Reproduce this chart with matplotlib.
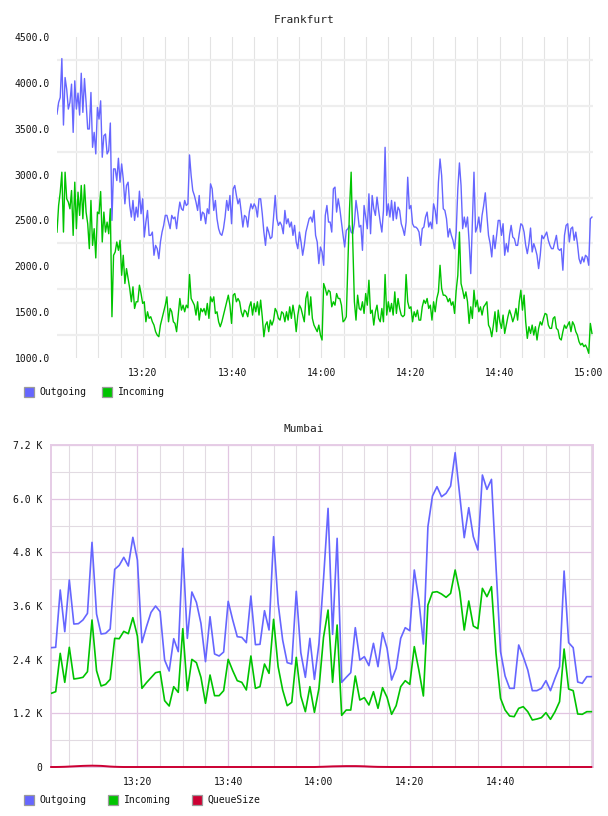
import datetime as dt
import pandas as pd
import matplotlib
matplotlib.use("Agg")
import matplotlib.pyplot as plt
import matplotlib.dates as mdates
from matplotlib.ticker import MultipleLocator, FixedLocator, FuncFormatter
from matplotlib.patches import Rectangle

plt.rcParams['font.family'] = ['DejaVu Sans Mono']

# ---------------- data ----------------
fra_title = "Frankfurt"
mum_title = "Mumbai"

fra_outgoing = [
    3660, 3786, 3841, 4265, 3540, 4058, 3931, 3714, 3786, 3986,
    3460, 4022, 3714, 3888, 3649, 4105, 3678, 4047, 3786, 3497,
    3497, 3895, 3297, 3460, 3225, 3732, 3605, 3804, 3189, 3424,
    3442, 3225, 3261, 3562, 2500, 3062, 3062, 2935, 3178, 2917,
    3116, 2953, 2681, 2881, 2917, 2663, 2537, 2718, 2500, 2645,
    2537, 2819, 2573, 2736, 2319, 2482, 2609, 2337, 2337, 2373,
    2120, 2228, 2192, 2083, 2265, 2373, 2446, 2555, 2555, 2482,
    2410, 2555, 2518, 2537, 2410, 2573, 2700, 2627, 2609, 2718,
    2663, 2681, 3214, 2989, 2826, 2772, 2700, 2609, 2772, 2500,
    2591, 2573, 2464, 2627, 2573, 2899, 2844, 2609, 2718, 2518,
    2410, 2355, 2337, 2410, 2537, 2718, 2609, 2772, 2464, 2844,
    2881, 2772, 2681, 2736, 2591, 2428, 2555, 2537, 2428, 2591,
    2681, 2627, 2681, 2645, 2537, 2736, 2736, 2573, 2373, 2228,
    2428, 2373, 2301, 2319, 2537, 2772, 2518, 2446, 2482, 2446,
    2355, 2609, 2464, 2518, 2428, 2482, 2337, 2446, 2265, 2192,
    2373, 2265, 2120, 2228, 2373, 2446, 2518, 2537, 2482, 2609,
    2337, 2265, 2029, 2210, 2156, 2011, 2555, 2663, 2482,
    2482, 2373, 2844, 2863, 2591, 2736, 2627, 2482, 2337, 2210,
    2392, 2410, 2446, 2373, 2355, 2464, 2718, 2591, 2428, 2446,
    2174, 2663, 2537, 2410, 2790, 2355, 2772, 2627, 2555, 2754,
    2609, 2482, 2373, 2609, 3297, 2555, 2681, 2537, 2718, 2500,
    2700, 2518, 2645, 2609, 2464, 2410, 2337, 2482, 2971, 2627,
    2663, 2464, 2428, 2428, 2410, 2373, 2228, 2410, 2428, 2537,
    2591, 2428, 2482, 2410, 2681, 2609, 2464, 2917, 3170, 2989,
    2627, 2609, 2518, 2319, 2410, 2337, 2283, 2192, 2373, 2844,
    3127, 2881, 2410, 2537, 2428, 2537, 2265, 1920, 2482, 3026,
    2373, 2428, 2537, 2373, 2555, 2663, 2801, 2555, 2337, 2247,
    2102, 2337, 2192, 2337, 2500, 2500, 2337, 2464, 2120, 2247,
    2156, 2337, 2446, 2319, 2301, 2228, 2228, 2355, 2464, 2446,
    2373, 2228, 2138, 2247, 2417, 2156, 2247, 2192, 2120, 1975,
    2120, 2337, 2301, 2337, 2373, 2283, 2228, 2192, 2192, 2265,
    2337, 2192, 2174, 2192, 1957, 2337, 2446, 2464, 2265, 2410,
    2428, 2283, 2373, 2247, 2083, 2029, 2102, 2047, 2120, 2102,
    2011, 2518, 2537,
]

fra_incoming = [
    2373, 2663, 2808, 3026, 2373, 3026, 2736, 2700, 2627, 2826,
    2337, 2917, 2410, 2808, 2555, 2881, 2518, 2888, 2591, 2464,
    2192, 2718, 2228, 2410, 2091, 2591, 2573, 2815, 2265, 2591,
    2373, 2482, 2355, 2627, 1450, 2120, 2156, 2265, 2174, 2283,
    1902, 2120, 1812, 1975, 1866, 1758, 1613, 1776, 1540, 1613,
    1613, 1794, 1703, 1595, 1613, 1395, 1504, 1432, 1450, 1395,
    1359, 1287, 1250, 1232, 1359, 1432, 1504, 1576, 1667, 1395,
    1540, 1504, 1395, 1377, 1287, 1468, 1649, 1522, 1576, 1504,
    1576, 1547, 1910, 1649, 1613, 1576, 1468, 1613, 1413, 1540,
    1504, 1540, 1468, 1595, 1432, 1667, 1613, 1667, 1486, 1504,
    1395, 1341, 1395, 1468, 1540, 1613, 1685, 1576, 1377, 1685,
    1703, 1613, 1649, 1613, 1504, 1450, 1522, 1504, 1450, 1558,
    1613, 1468, 1595, 1504, 1613, 1468, 1631, 1450, 1232, 1359,
    1395, 1287, 1413, 1359, 1413, 1540, 1504, 1432, 1413, 1504,
    1486, 1395, 1504, 1413, 1558, 1432, 1576, 1468, 1287, 1468,
    1576, 1540, 1468, 1395, 1649, 1721, 1468, 1667, 1432, 1359,
    1323, 1287, 1359, 1250, 1196, 1812, 1758, 1685, 1739,
    1721, 1558, 1613, 1576, 1703, 1649, 1649, 1576, 1395, 1413,
    1450, 2047, 2627, 3026, 2265, 1613, 1413, 1685, 1540, 1522,
    1613, 1486, 1703, 1576, 1848, 1486, 1522, 1359, 1504, 1576,
    1432, 1395, 1540, 1395, 1910, 1468, 1613, 1504, 1595, 1468,
    1721, 1486, 1649, 1540, 1468, 1450, 1468, 1910, 1613, 1540,
    1558, 1395, 1504, 1450, 1522, 1413, 1413, 1558, 1631, 1595,
    1649, 1540, 1576, 1413, 1613, 1504, 1649, 1721, 2011, 1758,
    1685, 1685, 1667, 1613, 1649, 1576, 1613, 1486, 1739, 1902,
    2373, 1812, 1739, 1649, 1721, 1613, 1377, 1558, 1432, 1739,
    1558, 1631, 1504, 1558, 1468, 1558, 1583, 1613, 1359, 1323,
    1232, 1359, 1504, 1287, 1522, 1395, 1323, 1468, 1268, 1359,
    1450, 1522, 1468, 1395, 1450, 1540, 1413, 1613, 1739, 1522,
    1685, 1395, 1214, 1341, 1268, 1359, 1250, 1341, 1196, 1323,
    1395, 1359, 1432, 1486, 1475, 1359, 1323, 1323, 1432, 1450,
    1323, 1305, 1214, 1196, 1287, 1359, 1323, 1359, 1395, 1287,
    1395, 1359, 1287, 1250, 1178, 1142, 1160, 1124, 1142, 1105,
    1051, 1377, 1268,
]

mum_outgoing = [
    2668, 2676, 3958, 3026, 4181, 3197, 3205, 3287, 3436, 5023,
    3421, 2974, 2989, 3085, 4420, 4509, 4688, 4494, 5135, 4628,
    2780, 3138, 3458, 3600, 3473, 2392, 2146, 2869, 2579, 4889,
    2877, 3913, 3682, 3212, 2355, 3361, 2527, 2482, 2571, 3704,
    3287, 2914, 2899, 2780, 3823, 2735, 2743, 3495, 3063, 5150,
    3659, 2840, 2333, 2303, 3928, 2556, 2005, 2877, 1960, 2765,
    4200, 5783, 2966, 5113, 1893, 2005, 2109, 3115, 2392, 2467,
    2266, 2765, 2243, 3004, 2653, 1945, 2206, 2877, 3115, 3048,
    4405, 3734, 2750, 5374, 6059, 6268, 6044, 6119, 6283, 7028,
    6082, 5128, 5798, 5150, 4852, 6529, 6208, 6432, 4479, 2579,
    2035, 1759, 1759, 2728, 2467, 2169, 1707, 1707, 1759, 1930,
    1707, 1983, 2243, 4382, 2780, 2668, 1900, 1871, 2020, 2020,
]

mum_incoming = [
    1647, 1684, 2541, 1893, 2676, 1968, 1983, 2005, 2132, 3287,
    2154, 1811, 1848, 1960, 2877, 2869, 3033, 2981, 3339, 2929,
    1759, 1886, 1997, 2109, 2132, 1483, 1364, 1796, 1669, 3093,
    1707, 2407, 2333, 2005, 1424, 2057, 1595, 1595, 1707, 2407,
    2154, 1930, 1893, 1722, 2482, 1759, 1796, 2303, 2094, 3302,
    2243, 1722, 1371, 1446, 2452, 1588, 1237, 1796, 1222, 1759,
    2900, 3510, 1893, 3175, 1155, 1274, 1274, 2035, 1498, 1550,
    1386, 1684, 1312, 1774, 1558, 1178, 1371, 1796, 1930, 1848,
    2691, 2169, 1588, 3622, 3905, 3920, 3868, 3794, 3883, 4405,
    3920, 3063, 3712, 3153, 3093, 3995, 3809, 4032, 2541, 1535,
    1274, 1140, 1125, 1312, 1349, 1237, 1051, 1073, 1103, 1215,
    1066, 1237, 1461, 2638, 1744, 1707, 1185, 1178, 1237, 1237,
]

mum_queue = [
    0, 0, 2, 5, 10, 15, 20, 25, 28, 30,
    28, 25, 18, 10, 5, 2, 0, 0, 0, 0,
    0, 0, 0, 0, 0, 0, 0, 0, 0, 0,
    0, 0, 0, 0, 0, 0, 0, 0, 0, 0,
    0, 0, 0, 0, 0, 0, 0, 0, 0, 0,
    0, 0, 0, 0, 0, 0, 0, 0, 0, 3,
    6, 10, 14, 16, 18, 20, 20, 20, 18, 15,
    10, 6, 3, 2, 1, 0, 0, 0, 0, 0,
    0, 0, 0, 0, 0, 0, 0, 0, 0, 0,
    0, 0, 0, 0, 0, 0, 0, 0, 0, 0,
    0, 0, 0, 0, 0, 0, 0, 0, 0, 0,
    0, 0, 0, 0, 0, 0, 0, 0, 0, 0,
]

series_labels_fra = ["Outgoing", "Incoming"]
series_labels_mum = ["Outgoing", "Incoming", "QueueSize"]
fra_yticks = [1000, 1500, 2000, 2500, 3000, 3500, 4000, 4500]
mum_yticks = [0, 1200, 2400, 3600, 4800, 6000, 7200]
mum_ytick_labels = ["0", "1.2 K", "2.4 K", "3.6 K", "4.8 K", "6.0 K", "7.2 K"]

# ---------------- styling ----------------
C_OUT = "#6666ff"
C_IN = "#00c400"
C_Q = "#cc0033"

base = dt.datetime(2024, 1, 1)
def T(h, m, s=0):
    return base.replace(hour=h, minute=m, second=s)

fra_t_out = pd.date_range(T(13, 0, 43), T(15, 0, 40), periods=len(fra_outgoing))
fra_t_in = pd.date_range(T(13, 0, 43), T(15, 0, 40), periods=len(fra_incoming))
mum_t = pd.date_range(T(13, 1), periods=len(mum_outgoing), freq="1min")

W, H = 608, 816
fig = plt.figure(figsize=(W / 100, H / 100), dpi=100)

def px_axes(l, t, r, b):
    return fig.add_axes([l / W, 1 - b / H, (r - l) / W, (b - t) / H])

def fx(x):
    return x / W

def fy(y):
    return 1 - y / H

# ---- Frankfurt ----
ax1 = px_axes(57, 37, 593, 358)
ax1.set_xlim(T(13, 0, 43), T(15, 0, 54))
ax1.set_ylim(1000, 4500)
for s in ax1.spines.values():
    s.set_visible(False)
ax1.yaxis.set_major_locator(FixedLocator(fra_yticks))
ax1.yaxis.set_major_formatter(FuncFormatter(lambda v, p: f"{v:.1f}"))
ax1.yaxis.set_minor_locator(FixedLocator([v + 250 for v in fra_yticks[:-1]]))
ax1.xaxis.set_major_locator(mdates.MinuteLocator(byminute=[0, 20, 40]))
ax1.xaxis.set_minor_locator(mdates.MinuteLocator(byminute=range(0, 60, 5)))
ax1.xaxis.set_major_formatter(mdates.DateFormatter("%H:%M"))
ax1.grid(False)
ax1.grid(True, axis="y", which="minor", color="#eeeeee", lw=1.6)
ax1.grid(True, axis="x", which="both", color="#e3e3e3", lw=0.8)
ax1.tick_params(axis="both", which="both", length=0, labelsize=7, colors="#111111")
ax1.tick_params(axis="y", pad=5)
ax1.tick_params(axis="x", pad=7.5)
ax1.set_axisbelow(True)
ax1.plot(fra_t_out, fra_outgoing, color=C_OUT, lw=1.0, zorder=3)
ax1.plot(fra_t_in, fra_incoming, color=C_IN, lw=1.0, zorder=3)
fig.text(fx(304), fy(20), fra_title, ha="center", va="center", fontsize=8, color="#222222")

# ---- Mumbai ----
ax2 = px_axes(51, 445, 593, 767)
ax2.set_xlim(T(13, 0, 58), T(15, 0, 22))
ax2.set_ylim(0, 7200)
for s in ax2.spines.values():
    s.set_color("#e6cce6")
    s.set_linewidth(1.4)
ax2.yaxis.set_major_locator(FixedLocator(mum_yticks))
ax2.set_yticklabels(mum_ytick_labels)
ax2.yaxis.set_minor_locator(FixedLocator([v + 600 for v in mum_yticks[:-1]]))
ax2.xaxis.set_major_locator(FixedLocator([mdates.date2num(T(13, 20)), mdates.date2num(T(13, 40)),
                                          mdates.date2num(T(14, 0)), mdates.date2num(T(14, 20)),
                                          mdates.date2num(T(14, 40))]))
ax2.xaxis.set_minor_locator(mdates.MinuteLocator(byminute=range(0, 60, 5)))
ax2.xaxis.set_major_formatter(mdates.DateFormatter("%H:%M"))
ax2.grid(True, which="minor", color="#e2dbe2", lw=0.8)
ax2.grid(True, which="major", color="#e2c6e2", lw=0.9)
ax2.tick_params(axis="both", which="both", length=0, labelsize=7, colors="#111111")
ax2.tick_params(axis="y", pad=6)
ax2.tick_params(axis="x", pad=7.5)
ax2.set_axisbelow(True)
ax2.plot(mum_t, mum_outgoing, color=C_OUT, lw=1.2, zorder=3)
ax2.plot(mum_t, mum_incoming, color=C_IN, lw=1.2, zorder=3)
ax2.plot(mum_t, mum_queue, color=C_Q, lw=1.4, zorder=4, clip_on=False)
fig.text(fx(304), fy(429), mum_title, ha="center", va="center", fontsize=8, color="#222222")

# ---- legends ----
def legend(y, items):
    for (sx, tx), label, col in items:
        fig.add_artist(Rectangle((fx(sx), fy(y + 5)), 10 / W, 10 / H, transform=fig.transFigure,
                                 facecolor=col, edgecolor="#9a9a9a", lw=0.9))
        fig.text(fx(tx), fy(y), label, ha="left", va="center", fontsize=7, color="#111111")

legend(392, [((24, 39), series_labels_fra[0], C_OUT), ((102, 118), series_labels_fra[1], C_IN)])
legend(800, [((24, 39), series_labels_mum[0], C_OUT), ((108, 124), series_labels_mum[1], C_IN),
             ((192, 207), series_labels_mum[2], C_Q)])

fig.savefig("out.png", dpi=100)
